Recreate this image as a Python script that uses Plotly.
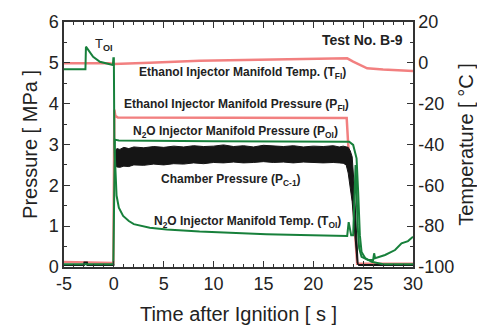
import plotly.graph_objects as go

# ---------------- data ----------------
# Ethanol injector manifold temperature [degC] (right axis)
t_eth_T = [-5, -0.5, 0, 1, 3.6, 8.6, 15.3, 22, 23.4, 24.0, 24.8, 25.4, 27, 28.7, 30]
eth_T = [-0.2, -0.2, -0.6, -0.5, 0.1, 1.0, 1.7, 2.2, 2.2, 0.6, -1.5, -2.7, -3.3, -3.5, -4.0]

# Ethanol injector manifold pressure [MPa]
t_eth_P = [-5, -0.05, 0.05, 0.15, 0.4, 5, 15, 23.35, 23.5, 23.9, 24.2, 24.4, 30]
eth_P = [0.12, 0.1, 3.85, 3.7, 3.66, 3.66, 3.65, 3.65, 3.0, 2.0, 0.8, 0.08, 0.08]

# N2O injector manifold pressure [MPa]
t_ox_P = [-5, -0.05, 0.1, 0.5, 10, 20, 23.6, 24.0, 24.34, 24.5, 24.67, 24.84, 25.2, 25.85, 27, 30]
ox_P = [0.07, 0.07, 3.12, 3.1, 3.08, 3.07, 3.07, 2.99, 2.66, 1.84, 0.78, 0.37, 0.22, 0.13, 0.07, 0.07]

# Chamber pressure (P_C-1) [MPa]: envelope of the oscillating band during firing
t_pc = [0.05, 0.3, 0.6, 1, 1.5, 2, 3, 4, 5, 6, 7, 8, 9, 10, 11, 12, 13, 14, 15, 16, 17, 18, 19,
        20, 21, 22, 22.6, 23.0, 23.3, 23.5, 23.7, 23.9, 24.1, 24.3, 24.4, 24.5]
pc_hi = [2.8, 2.9, 2.88, 2.93, 2.9, 2.94, 2.92, 2.95, 2.93, 2.96, 2.94, 2.97, 2.95, 2.96, 2.99,
         2.95, 2.97, 2.94, 2.98, 2.96, 2.95, 2.97, 2.94, 2.96, 2.95, 2.97, 2.94, 2.96, 2.95,
         2.93, 2.85, 2.7, 2.0, 0.9, 0.35, 0.06]
pc_lo = [2.5, 2.45, 2.44, 2.47, 2.46, 2.5, 2.49, 2.52, 2.5, 2.53, 2.52, 2.55, 2.53, 2.56, 2.55,
         2.57, 2.55, 2.56, 2.58, 2.56, 2.57, 2.55, 2.57, 2.56, 2.55, 2.56, 2.55, 2.54, 2.5,
         2.3, 2.0, 1.6, 1.0, 0.35, 0.1, 0.05]
# Chamber pressure outside the firing
t_pc_pre = [-5, -3.0, -2.95, -2.7, -2.65, 0.05]
pc_pre = [0.05, 0.05, 0.11, 0.11, 0.05, 0.05]
t_pc_post = [24.5, 30]
pc_post = [0.05, 0.05]

# N2O injector manifold temperature [degC] (right axis)
t_ox_T = [-5, -2.85, -2.8, -2.41, -2.08, -1.4, -0.73, -0.1, -0.05, 0.0, 0.05, 0.15, 0.27, 0.5,
          0.93, 1.5, 2.0, 3.6, 5.3, 8.6, 12, 15.3, 18.7, 22, 23.4, 23.55, 23.65, 23.8, 24.0,
          24.24, 24.34, 24.44, 24.6, 24.84, 25.5, 26.0, 26.1, 26.2, 27.2, 28.2, 28.85, 29.5, 30]
ox_T = [-3.2, -3.2, 7.9, 5.45, 3.0, 0.55, -0.2, -1.1, 2.2, 2.2, -40, -56, -65, -71,
        -75, -77.5, -79, -80.8, -81.6, -82.6, -83.4, -83.9, -84.3, -84.6, -84.8, -78, -80, -84.5, -84.5,
        -50, -63, -79.4, -90.7, -95, -96.6, -96.6, -93.3, -95.7, -94.1, -91.7, -88.4, -87.3, -85.2]

x_ticks = [-5, 0, 5, 10, 15, 20, 25, 30]
x_ticktext = ["-5", "0", "5", "10", "15", "20", "25", "30"]
p_ticks = [0, 1, 2, 3, 4, 5, 6]
t_ticks = [-100, -80, -60, -40, -20, 0, 20]
t_ticktext = ["-100", "-80", "-60", "-40", "-20", "0", "20"]

# labels: (text, t, P)
labels = [
    ("Ethanol Injector Manifold Temp. (T<sub>FI</sub>)", 12.94, 4.75),
    ("Ethanol Injector Manifold Pressure (P<sub>FI</sub>)", 12.34, 3.97),
    ("N<sub>2</sub>O Injector Manifold Pressure (P<sub>OI</sub>)", 12.24, 3.31),
    ("Chamber Pressure (P<sub>C-1</sub>)", 11.73, 2.13),
    ("N<sub>2</sub>O Injector Manifold Temp. (T<sub>OI</sub>)", 13.44, 1.10),
]

PINK = "#f28080"
GREEN = "#17803b"
FONT = "Arial, Liberation Sans, sans-serif"

fig = go.Figure()
fig.add_trace(go.Scatter(x=t_eth_T, y=eth_T, yaxis="y2", mode="lines",
                         line=dict(color=PINK, width=2.5), showlegend=False))
fig.add_trace(go.Scatter(x=t_eth_P, y=eth_P, mode="lines",
                         line=dict(color=PINK, width=2.5), showlegend=False))
fig.add_trace(go.Scatter(x=t_pc + t_pc[::-1], y=pc_hi + pc_lo[::-1], mode="lines",
                         fill="toself", fillcolor="#151515",
                         line=dict(color="#151515", width=1), showlegend=False))
fig.add_trace(go.Scatter(x=t_pc_pre, y=pc_pre, mode="lines",
                         line=dict(color="#151515", width=2), showlegend=False))
fig.add_trace(go.Scatter(x=t_pc_post, y=pc_post, mode="lines",
                         line=dict(color="#151515", width=2), showlegend=False))
fig.add_trace(go.Scatter(x=t_ox_P, y=ox_P, mode="lines",
                         line=dict(color=GREEN, width=2), showlegend=False))
fig.add_trace(go.Scatter(x=t_ox_T, y=ox_T, yaxis="y2", mode="lines",
                         line=dict(color=GREEN, width=2), showlegend=False))

annots = []
for txt, tx, py in labels:
    annots.append(dict(x=tx, y=py, xref="x", yref="y", text="<b>" + txt + "</b>",
                       showarrow=False, font=dict(family=FONT, size=12, color="#222")))
annots.append(dict(x=-1.0, y=5.44, xref="x", yref="y", text="T<sub><b>OI</b></sub>",
                   showarrow=False, font=dict(family=FONT, size=13, color="#222")))
annots.append(dict(x=29.2, y=5.56, xref="x", yref="y", text="<b>Test No. B-9</b>",
                   xanchor="right", showarrow=False, font=dict(family=FONT, size=14, color="#222")))

axis_common = dict(showline=True, linecolor="#333", linewidth=1.5, ticks="inside",
                   tickcolor="#333", tickwidth=1, ticklen=6, showgrid=False, zeroline=False,
                   automargin=False, tickfont=dict(family=FONT, size=18, color="#222"))

fig.update_layout(
    width=477, height=326,
    margin=dict(l=64, r=64, t=22, b=59),
    paper_bgcolor="white", plot_bgcolor="white",
    font=dict(family=FONT, color="#222"),
    xaxis=dict(range=[-5, 30], tickvals=x_ticks, ticktext=x_ticktext, mirror="ticks",
               minor=dict(dtick=1, ticks="inside", ticklen=3, tickcolor="#333"),
               title=dict(text="Time after Ignition [ s ]", font=dict(family=FONT, size=20), standoff=14),
               **axis_common),
    yaxis=dict(range=[0, 6], tickvals=p_ticks,
               minor=dict(dtick=0.5, ticks="inside", ticklen=3, tickcolor="#333"),
               title=dict(text="Pressure [ MPa ]", font=dict(family=FONT, size=20), standoff=6),
               **axis_common),
    yaxis2=dict(range=[-100, 20], tickvals=t_ticks, ticktext=t_ticktext, overlaying="y", side="right",
                minor=dict(dtick=10, ticks="inside", ticklen=3, tickcolor="#333"),
                title=dict(text="Temperature [ °C ]", font=dict(family=FONT, size=20), standoff=8),
                **axis_common),
    annotations=annots,
)

fig.write_html("out.html")
